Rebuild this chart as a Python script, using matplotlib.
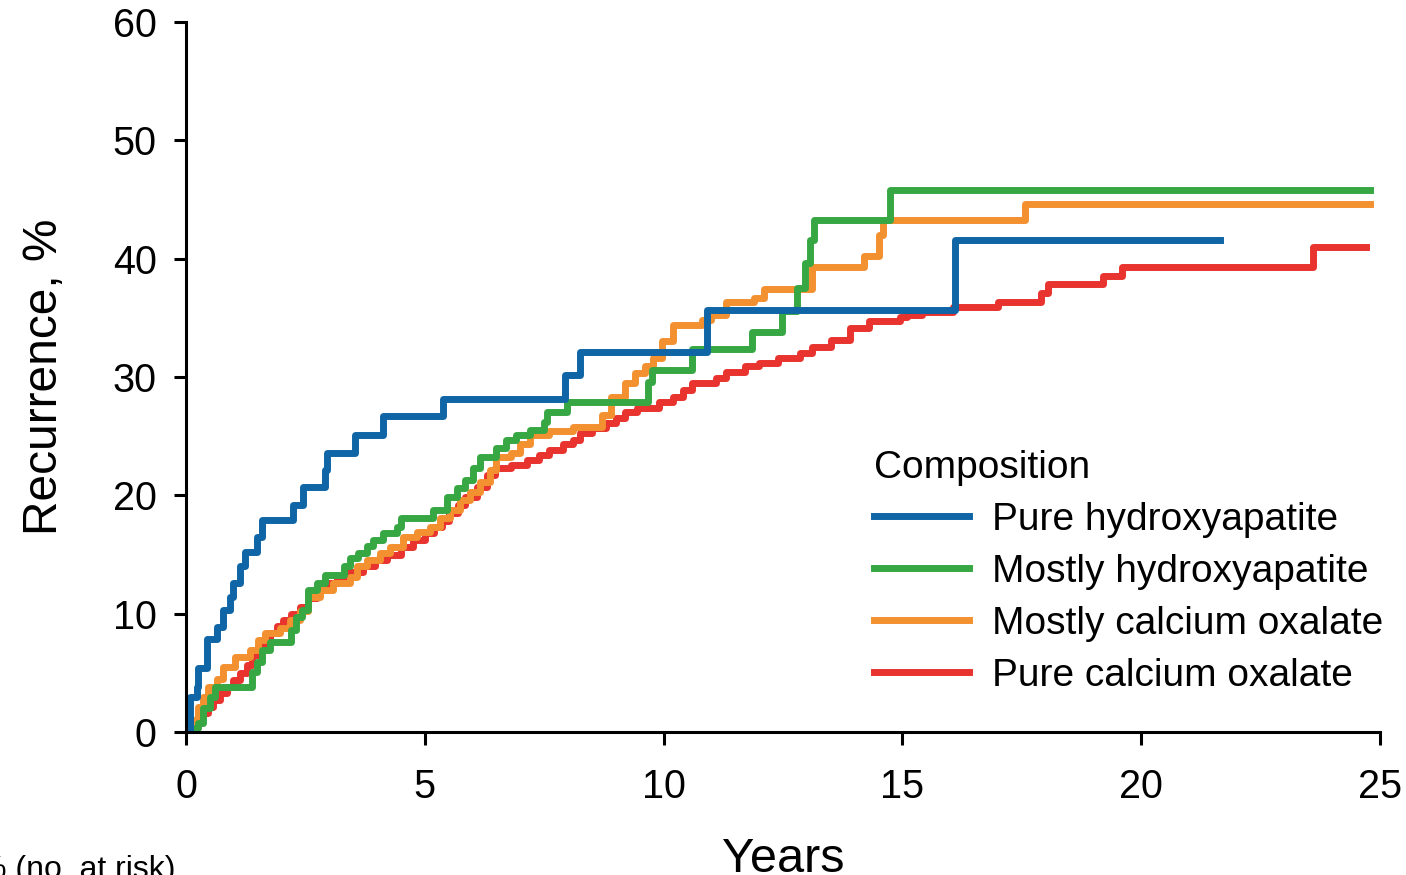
import matplotlib
matplotlib.use("Agg")
import matplotlib.pyplot as plt

plt.rcParams['font.family'] = ['Liberation Sans', 'DejaVu Sans']

# step data (years, recurrence %)
pure_ha_t = [0, 0.08, 0.23, 0.26, 0.43, 0.64, 0.78, 0.92, 0.99, 1.13, 1.24, 1.49, 1.59,
             2.24, 2.45, 2.91, 2.95, 3.54, 4.12, 5.38, 7.94, 8.25, 10.9, 16.1, 21.65]
pure_ha_v = [0, 3.0, 3.8, 5.4, 7.9, 8.9, 10.3, 11.4, 12.6, 14.0, 15.2, 16.5, 17.9,
             19.2, 20.7, 22.1, 23.6, 25.1, 26.7, 28.1, 30.2, 32.1, 35.7, 41.6, 41.6]

mostly_ha_t = [0, 0.19, 0.26, 0.36, 0.5, 0.6, 1.38, 1.49, 1.59, 1.76, 2.2, 2.3, 2.43, 2.55,
               2.74, 2.9, 3.3, 3.43, 3.6, 3.79, 3.92, 4.12, 4.41, 4.5, 5.17, 5.46, 5.67,
               5.84, 6.0, 6.15, 6.5, 6.7, 6.9, 7.2, 7.5, 7.55, 7.98, 9.68, 9.75, 10.6,
               11.85, 12.48, 12.8, 12.96, 13.06, 13.15, 14.74, 24.8]
mostly_ha_v = [0, 0.3, 0.8, 2.0, 3.0, 3.8, 5.1, 5.9, 6.9, 7.6, 8.6, 9.7, 10.3, 12.0,
               12.6, 13.3, 14.0, 14.7, 15.1, 15.7, 16.2, 16.8, 17.3, 18.1, 18.8, 19.9, 20.6,
               21.3, 22.3, 23.2, 24.0, 24.7, 25.1, 25.5, 26.2, 27.0, 27.9, 29.6, 30.6, 32.4,
               33.8, 35.6, 37.5, 39.6, 41.6, 43.3, 45.8, 45.8]

mostly_co_t = [0, 0.15, 0.26, 0.36, 0.46, 0.64, 0.78, 1.03, 1.34, 1.5, 1.65, 1.97, 2.18,
               2.39, 2.55, 2.8, 3.08, 3.43, 3.58, 3.79, 4.06, 4.27, 4.54, 4.84, 5.1, 5.32,
               5.53, 5.74, 5.95, 6.15, 6.37, 6.5, 6.8, 7.0, 7.2, 7.6, 8.1, 8.7, 8.9, 9.2,
               9.4, 9.6, 9.78, 9.96, 10.2, 10.8, 11.0, 11.3, 11.9, 12.1, 13.1, 14.2, 14.5,
               14.6, 17.57, 24.8]
mostly_co_v = [0, 1.0, 2.1, 3.0, 3.8, 4.5, 5.5, 6.3, 6.9, 7.8, 8.4, 8.8, 9.5,
               10.2, 11.4, 12.0, 12.6, 13.1, 14.0, 14.5, 15.1, 15.6, 16.5, 16.9, 17.3, 18.1,
               18.8, 19.6, 20.3, 21.1, 22.1, 23.2, 23.6, 24.3, 25.1, 25.4, 25.8, 26.8, 28.3, 29.5,
               30.3, 30.9, 31.6, 33.0, 34.4, 34.8, 35.2, 36.3, 36.7, 37.4, 39.3, 40.2, 42.0,
               43.3, 44.6, 44.6]

pure_co_t = [0, 0.23, 0.33, 0.46, 0.57, 0.71, 0.86, 0.99, 1.13, 1.27, 1.38, 1.5, 1.65, 1.76,
             1.9, 2.03, 2.2, 2.39, 2.55, 2.74, 2.95, 3.16, 3.4, 3.7, 3.95, 4.2, 4.5, 4.75,
             5.0, 5.2, 5.35, 5.5, 5.7, 5.85, 6.1, 6.3, 6.47, 6.8, 7.14, 7.4, 7.6, 7.9, 8.1,
             8.25, 8.5, 8.8, 9.0, 9.2, 9.45, 9.9, 10.2, 10.4, 10.6, 11.1, 11.3, 11.7, 12.0,
             12.4, 12.85, 13.1, 13.5, 13.9, 14.3, 14.95, 15.1, 15.4, 16.05, 17.0, 17.9, 18.05,
             19.2, 19.6, 23.6, 24.7]
pure_co_v = [0, 0.8, 1.6, 2.1, 2.7, 3.3, 3.8, 4.4, 5.0, 5.7, 6.5, 7.2, 7.8, 8.4,
             9.0, 9.5, 10.0, 10.6, 11.3, 12.0, 12.6, 13.0, 13.5, 14.0, 14.5, 15.0, 15.6, 16.2,
             16.8, 17.3, 17.8, 18.5, 19.2, 19.9, 20.7, 21.7, 22.3, 22.6, 23.0, 23.4, 23.8, 24.3, 24.7,
             25.3, 25.7, 26.1, 26.5, 27.0, 27.4, 27.9, 28.3, 28.9, 29.5, 29.9, 30.4, 30.9, 31.2,
             31.6, 32.0, 32.5, 33.1, 34.1, 34.7, 35.1, 35.2, 35.5, 35.9, 36.3, 37.1, 37.9,
             38.5, 39.3, 41.0, 41.0]

labels = ["Pure hydroxyapatite", "Mostly hydroxyapatite", "Mostly calcium oxalate", "Pure calcium oxalate"]
colors = ["#0f65a5", "#37a744", "#f39030", "#e8332e"]
xticks = [0, 5, 10, 15, 20, 25]
yticks = [0, 10, 20, 30, 40, 50, 60]

fig = plt.figure(figsize=(14.06, 8.75), dpi=100)
ax = fig.add_axes([0.1323, 0.1634, 0.9815 - 0.1323, 0.9749 - 0.1634])

lw = 5
series = [(pure_co_t, pure_co_v, 3), (mostly_co_t, mostly_co_v, 2),
          (mostly_ha_t, mostly_ha_v, 1), (pure_ha_t, pure_ha_v, 0)]
handles = {}
for t, v, i in series:
    ln, = ax.step(t, v, where='post', color=colors[i], lw=lw, label=labels[i])
    handles[i] = ln

ax.set_xlim(0, 25)
ax.set_ylim(0, 60)
ax.set_xticks(xticks)
ax.set_yticks(yticks)
ax.tick_params(labelsize=28.5, width=2.2, length=9)
ax.tick_params(axis='x', pad=17)
ax.tick_params(axis='y', pad=12)
for s in ['top', 'right']:
    ax.spines[s].set_visible(False)
for s in ['left', 'bottom']:
    ax.spines[s].set_linewidth(2.2)

ax.set_xlabel("Years", fontsize=35, labelpad=22)
ax.set_ylabel("Recurrence, %", fontsize=34.5, labelpad=33)

leg = ax.legend([handles[i] for i in range(4)], labels, title="Composition",
                loc='upper left', bbox_to_anchor=(0.576, 0.397), frameon=False,
                fontsize=28, title_fontsize=28, handlelength=2.45, handletextpad=0.6,
                labelspacing=0.41, borderpad=0, borderaxespad=0, alignment='left')

fig.text(175 / 1406, 1 - 855 / 875, "% (no. at risk)", fontsize=23, ha='right', va='top')

fig.savefig("out.png", dpi=100)
